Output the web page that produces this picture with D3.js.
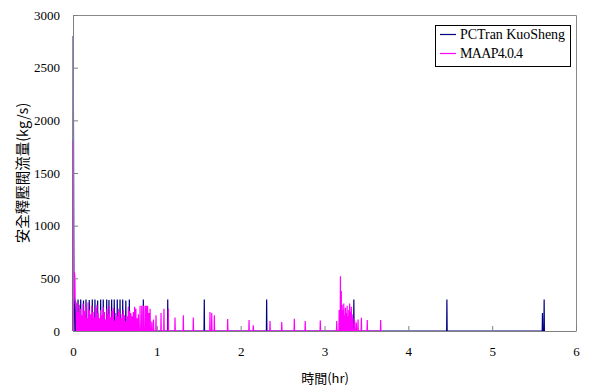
<!DOCTYPE html>
<html>
<head>
<meta charset="UTF-8">
<title>安全釋壓閥流量</title>
<style>
  html, body { margin: 0; padding: 0; background: #fff; }
  svg { display: block; }
  .tick text { font-family: "Liberation Serif", serif; font-size: 13px; fill: #000; }
</style>
</head>
<body>
<svg width="601" height="391"></svg>
<script src="https://d3js.org/d3.v7.min.js"></script>
<script>
// axis ticks
var xTicks = [0, 1, 2, 3, 4, 5, 6];
var yTicks = [0, 500, 1000, 1500, 2000, 2500, 3000];

// series names
var seriesNames = ["PCTran KuoSheng", "MAAP4.0.4"];

// PCTran: opening transient (hr, kg/s)
var pcInitT = [0, 0.002, 0.006, 0.010, 0.014, 0.018, 0.022];
var pcInitV = [0, 2800, 1900, 500, 260, 240, 0];
// PCTran: valve cycles (hr, peak kg/s)
var pcSpikeT = [0.030, 0.060, 0.092, 0.125, 0.155, 0.194, 0.230, 0.262, 0.294, 0.330, 0.361,
                0.402, 0.429, 0.461, 0.492, 0.528, 0.561, 0.593, 0.630, 0.672, 0.839, 1.130,
                1.566, 2.310, 3.350, 4.460, 5.600, 5.620];
var pcSpikeV = [290, 300, 300, 290, 300, 295, 300, 300, 290, 300, 300,
                300, 295, 300, 300, 300, 300, 300, 290, 300, 300, 300,
                300, 300, 300, 300, 170, 300];

// MAAP: opening transient (hr, kg/s)
var maapInitT = [0, 0.002, 0.006, 0.010, 0.016, 0.022, 0.026, 0.030, 0.036, 0.040];
var maapInitV = [0, 1810, 900, 320, 560, 520, 300, 250, 200, 0];
// MAAP: valve cycles (hr, peak kg/s)
var maapSpikeT = [0.045, 0.060, 0.075, 0.090, 0.105, 0.120, 0.135, 0.150, 0.165, 0.180, 0.195,
                  0.210, 0.225, 0.240, 0.255, 0.270, 0.285, 0.300, 0.315, 0.330, 0.345, 0.360,
                  0.375, 0.390, 0.405, 0.420, 0.435, 0.450, 0.465, 0.480, 0.495, 0.510, 0.525,
                  0.540, 0.555, 0.570, 0.585, 0.600, 0.615, 0.630, 0.645, 0.660, 0.675, 0.690,
                  0.705, 0.720, 0.735, 0.750, 0.765, 0.780, 0.800, 0.820, 0.840, 0.860, 0.875,
                  0.890, 0.905, 0.920, 0.940, 0.960, 0.990, 1.050, 1.085, 1.137, 1.217, 1.316,
                  1.435, 1.634, 1.655, 1.686, 1.845, 2.100, 2.150, 2.350, 2.490, 2.640, 2.770,
                  2.950, 3.146, 3.175, 3.190, 3.200, 3.210, 3.220, 3.230, 3.240, 3.250, 3.260,
                  3.270, 3.280, 3.290, 3.300, 3.310, 3.320, 3.330, 3.340, 3.360, 3.380, 3.400,
                  3.440, 3.510, 3.670];
var maapSpikeV = [270, 180, 250, 210, 150, 260, 190, 230, 120, 270, 200,
                  160, 240, 180, 130, 220, 250, 170, 120, 200, 150, 230,
                  180, 110, 210, 160, 240, 130, 190, 220, 100, 170, 140,
                  210, 180, 120, 160, 200, 150, 90, 140, 230, 190, 170,
                  140, 180, 230, 210, 120, 160, 240, 240, 240, 240, 240,
                  240, 170, 210, 90, 110, 150, 170, 210, 210, 127, 150,
                  127, 180, 170, 150, 114, 105, 55, 95, 85, 115, 95,
                  100, 95, 200, 520, 380, 250, 200, 260, 150, 220, 170,
                  240, 140, 200, 260, 180, 230, 160, 120, 100, 80, 110,
                  125, 105, 105];

var svg = d3.select("svg");
var plotL = 73, plotR = 576, plotT = 15, plotB = 331;

var x = d3.scaleLinear().domain([0, 6]).range([plotL, plotR]);
var y = d3.scaleLinear().domain([0, 3000]).range([plotB, plotT]);

// turn transient + spikes into one polyline
function buildSeries(initT, initV, spikeT, spikeV) {
    var pts = initT.map(function (t, i) { return [t, initV[i]]; });
    var d = 0.003;
    spikeT.forEach(function (t, i) {
        pts.push([t - d, 0]);
        pts.push([t, spikeV[i]]);
        pts.push([t + d, 0]);
    });
    return pts;
}

var line = d3.line()
    .x(function (p) { return x(p[0]); })
    .y(function (p) { return y(p[1]); });

// frame (top and right)
svg.append("path")
    .attr("d", "M" + plotL + "," + (plotT + 0.5) + "H" + (plotR + 0.5) + "V" + plotB)
    .attr("fill", "none")
    .attr("stroke", "#888")
    .attr("stroke-width", 1);

svg.append("path")
    .datum(buildSeries(pcInitT, pcInitV, pcSpikeT, pcSpikeV))
    .attr("d", line)
    .attr("fill", "none")
    .attr("stroke", "#000080")
    .attr("stroke-width", 1.2);

svg.append("path")
    .datum(buildSeries(maapInitT, maapInitV, maapSpikeT, maapSpikeV))
    .attr("d", line)
    .attr("fill", "none")
    .attr("stroke", "#ff00ff")
    .attr("stroke-width", 1.2);

// axes with inward ticks
svg.append("g")
    .attr("transform", "translate(0," + plotB + ")")
    .call(d3.axisBottom(x).tickValues(xTicks).tickFormat(d3.format("d"))
        .tickSizeInner(-5).tickSizeOuter(0).tickPadding(16));
svg.append("g")
    .attr("transform", "translate(" + plotL + ",0)")
    .call(d3.axisLeft(y).tickValues(yTicks).tickFormat(d3.format("d"))
        .tickSizeInner(-5).tickSizeOuter(0).tickPadding(13));
svg.selectAll(".domain, .tick line").attr("stroke", "#808080");

// axis titles
svg.append("text")
    .attr("x", 325).attr("y", 383)
    .attr("text-anchor", "middle")
    .style("font-family", "'Noto Sans CJK TC', sans-serif")
    .style("font-size", "13px")
    .text("時間(hr)");

svg.append("text")
    .attr("transform", "translate(28,173) rotate(-90)")
    .attr("text-anchor", "middle")
    .style("font-family", "'Noto Sans CJK TC', sans-serif")
    .style("font-size", "14.5px")
    .text("安全釋壓閥流量(kg/s)");

// legend
var lg = svg.append("g");
lg.append("rect")
    .attr("x", 435.5).attr("y", 25.5).attr("width", 135).attr("height", 41)
    .attr("fill", "#fff").attr("stroke", "#000").attr("stroke-width", 1);
var colors = ["#000080", "#ff00ff"];
seriesNames.forEach(function (name, i) {
    var ly = 34.5 + i * 19;
    lg.append("line")
        .attr("x1", 440).attr("x2", 456).attr("y1", ly).attr("y2", ly)
        .attr("stroke", colors[i]).attr("stroke-width", 1.2);
    lg.append("text")
        .attr("x", 460).attr("y", ly + 4.5)
        .style("font-family", "'Liberation Serif', serif")
        .style("font-size", "14px")
        .attr("textLength", i === 0 ? 105 : 63)
        .text(name);
});
</script>
</body>
</html>
